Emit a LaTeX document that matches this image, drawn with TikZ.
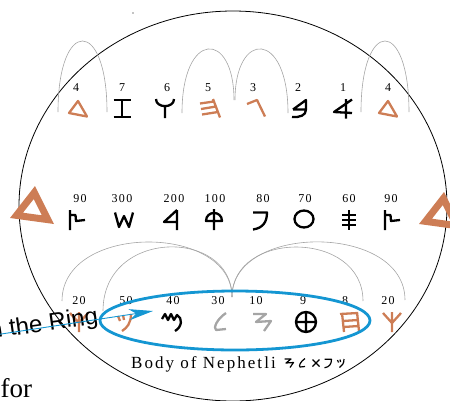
\documentclass[tikz,border=0pt]{standalone}
\usepackage{fontspec}
\setmainfont{Liberation Serif}
\newfontfamily\numfont[LetterSpace=12]{Liberation Serif}
\newfontfamily\bodyfont[LetterSpace=12]{Liberation Serif}
\newfontfamily\ringfont{Liberation Sans}
\usetikzlibrary{arrows.meta}
\definecolor{ochre}{RGB}{205,125,85}
\definecolor{ringblue}{RGB}{20,150,210}
\definecolor{arcgray}{RGB}{165,165,165}
\tikzset{
  num/.style={font=\numfont\fontsize{12}{12}\selectfont, inner sep=0pt},
  glyph/.style={line width=2.3pt, line join=round, line cap=butt},
  gk/.style={glyph, color=black},
  go/.style={glyph, color=ochre},
  gg/.style={glyph, color=arcgray},
  gsmall/.style={color=black, scale=0.5, line width=1.2pt, line join=round},
  arcline/.style={draw=arcgray, line width=0.6pt},
  pics/bigdalet/.style={code={
    \fill[ochre, even odd rule] (35,186)--(10,218)--(54,224)--cycle
      (33.7,199.1)--(23.0,212.7)--(41.8,215.3)--cycle;}},
  pics/dalet/.style={code={\draw (0,-7.5)--(-9,4.5)--(9,8)--cycle;}},
  pics/zayin/.style={code={\draw (-8.5,-8.5)--(8.5,-8.5) (0,-8.5)--(0,8.5) (-8.5,8.5)--(8.5,8.5);}},
  pics/waw/.style={code={\draw (-9,-9.5) .. controls (-9,0) and (9,0) .. (9,-9.5) (0,-2.4)--(0,9.5);}},
  pics/he/.style={code={\draw (3,-9.5)--(10,9) (-10,-5)--(4,-7) (-9,0.5)--(6,-2) (-8,6)--(7.9,3.5);}},
  pics/gimel/.style={code={\draw (-9,-4.5)--(1,-8.5)--(9,8);}},
  pics/bet/.style={code={\draw (-9,1)--(4,-8.5)--(4,1) .. controls (4,7) and (-2,9) .. (-10,8.5) (-9,1)--(4,1);}},
  pics/aleph/.style={code={\draw (9,-9)--(-9,3.5)--(9,4.5) (3,-9.5)--(3,10);}},
  pics/tsade/.style={code={\draw (-7,-10)--(-7,10) (-7,-5)--(-1.5,-5)--(-1,1)--(8,0);}},
  pics/shin/.style={code={\draw (-9,-7.5)--(-5,7)--(0,-4)--(5,7)--(9,-7.5);}},
  pics/resh/.style={code={\draw (7,-10)--(-6,2)--(7,2) (7,-10)--(7,10);}},
  pics/qoph/.style={code={\draw (0,-11)--(0,10) (-8,1) .. controls (-8,-9.7) and (8,-9.7) .. (8,1) -- cycle;}},
  pics/pe/.style={code={\draw (-7,-7.5)--(7,-7.5) .. controls (7,2) and (3,8) .. (-7,9.5);}},
  pics/ayin/.style={code={\draw (0,-1) circle[x radius=9.5, y radius=8.5];}},
  pics/samekh/.style={code={\draw (-7,-5)--(7,-5) (-7,0)--(7,0) (-7,5)--(7,5) (0,-10)--(0,10);}},
  pics/kaph/.style={code={\draw (-9,-9)--(0,1)--(9,-9) (0,-10)--(0,10);}},
  pics/nun/.style={code={\draw (-7,-6)--(-5,-1) (-2,-7)--(-1,-2) (6,-8) .. controls (6,1) and (2,6) .. (-3,9);}},
  pics/mem/.style={code={\draw (-10,-3)--(-7,-8)--(-4,-2)--(-1,-8)--(2,-2)--(5,-7) .. controls (11,-4) and (10,5) .. (3,9);}},
  pics/lamed/.style={code={\draw (6,-9) .. controls (-3,-3) and (-7,6) .. (-4,8) -- (6,7);}},
  pics/yod/.style={code={\draw (-9,-8)--(4,-8)--(-6,0)--(9,-1)--(2,9);}},
  pics/teth/.style={code={\draw (0,0) circle[radius=10] (-10,0)--(10,0) (0,-10)--(0,10);}},
  pics/heth/.style={code={\draw (-8,-9)--(-6,10) (7,-10)--(9,9) (-10,-8)--(8,-9) (-7,-1)--(8,-2) (-6.5,5)--(8.5,4);}},
  pics/taw/.style={code={\draw (-7,-7)--(7,7) (-7,7)--(7,-7);}}
}
\begin{document}
\begin{tikzpicture}[x=1pt,y=-1pt]
\useasboundingbox (0,0) rectangle (450,400);
\fill (133,13) circle[radius=0.6];
\draw[line width=0.8pt] (233,206) ellipse[x radius=214, y radius=195];
% arcs, top row
\draw[arcline] (58,112) .. controls (58,17.3) and (107,17.3) .. (107,112);
\draw[arcline] (182,113) .. controls (182,29.8) and (234,29.8) .. (234,100);
\draw[arcline] (235,100) .. controls (235,29.8) and (288,29.8) .. (288,113);
\draw[arcline] (361,112) .. controls (361,17.3) and (409,17.3) .. (409,112);
% arcs, bottom row
\draw[arcline] (62,301) .. controls (62,223) and (232,223) .. (232,297);
\draw[arcline] (103,311) .. controls (103,228) and (232,228) .. (232,297);
\draw[arcline] (232,297) .. controls (232,229.7) and (363,229.7) .. (363,301);
\draw[arcline] (232,297) .. controls (232,223) and (405,223) .. (405,300);
% big triangles
\pic at (0,0) {bigdalet};
\pic at (409,6) {bigdalet};
% row 1
\pic[go] at (78,108.5) {dalet};
\pic[gk] at (122,108.5) {zayin};
\pic[gk] at (165,108.5) {waw};
\pic[go] at (210,108.5) {he};
\pic[go] at (256,108.5) {gimel};
\pic[gk] at (302,108.5) {bet};
\pic[gk] at (343,108.5) {aleph};
\pic[go] at (388,108.5) {dalet};
\node[num] (r1a) at (76,87.5) {4};
\node[num] (r1b) at (122,87.5) {7};
\node[num] (r1c) at (167,87.5) {6};
\node[num] (r1d) at (208,87.5) {5};
\node[num] (r1e) at (253,87.5) {3};
\node[num] (r1f) at (298,87.5) {2};
\node[num] (r1g) at (343,87.5) {1};
\node[num] (r1h) at (388,87.5) {4};
% row 2
\pic[gk] at (77,220) {tsade};
\pic[gk] at (124,220) {shin};
\pic[gk] at (170,220) {resh};
\pic[gk] at (214,220) {qoph};
\pic[gk] at (260,220) {pe};
\pic[gk] at (304,220) {ayin};
\pic[gk] at (349,220) {samekh};
\pic[gk] at (392,220) {tsade};
\node[num] (r2a) at (80,199) {90};
\node[num] (r2b) at (122,199) {300};
\node[num] (r2c) at (174,199) {200};
\node[num] (r2d) at (215,199) {100};
\node[num] (r2e) at (263,199) {80};
\node[num] (r2f) at (305,199) {70};
\node[num] (r2g) at (349,199) {60};
\node[num] (r2h) at (391,199) {90};
% row 3
\pic[go] at (79,322) {kaph};
\pic[go] at (125,322) {nun};
\pic[gk] at (172,322) {mem};
\pic[gg] at (220,322) {lamed};
\pic[gg] at (262,322) {yod};
\pic[gk] at (306,322) {teth};
\pic[go] at (350,322) {heth};
\pic[go] at (392,322) {kaph};
\node[num] (r3a) at (79,300.5) {20};
\node[num] (r3b) at (126,300.5) {50};
\node[num] (r3c) at (173,300.5) {40};
\node[num] (r3d) at (218,300.5) {30};
\node[num] (r3e) at (256,300.5) {10};
\node[num] (r3f) at (303,300.5) {9};
\node[num] (r3g) at (345,300.5) {8};
\node[num] (r3h) at (388,300.5) {20};
% ring
\draw[ringblue, line width=2.8pt] (235,320.5) ellipse[x radius=135, y radius=29.5];
\node[anchor=base east, inner sep=0pt, rotate=8, font=\ringfont\fontsize{24}{24}\selectfont] (ring) at (99,323.5) {n the Ring};
\coordinate (arrowstart) at (-2,334.5);
\coordinate (arrowtip) at (153,311);
\draw[ringblue, line width=0.9pt, -{Stealth[length=24pt, width=11pt, inset=7pt]}] (arrowstart) -- (arrowtip);
% caption
\node[anchor=base west, inner sep=0pt, font=\bodyfont\fontsize{17}{17}\selectfont] (body) at (131,368) {Body of Nephetli};
\pic[gsmall] at (289,363) {yod};
\pic[gsmall] at (302,363) {lamed};
\pic[gsmall] at (316,363) {taw};
\pic[gsmall] at (328,363) {pe};
\pic[gsmall] at (341,363) {nun};
\node[anchor=base west, inner sep=0pt, font=\fontsize{27}{27}\selectfont] (for) at (0.5,397) {for};
\end{tikzpicture}
\end{document}
